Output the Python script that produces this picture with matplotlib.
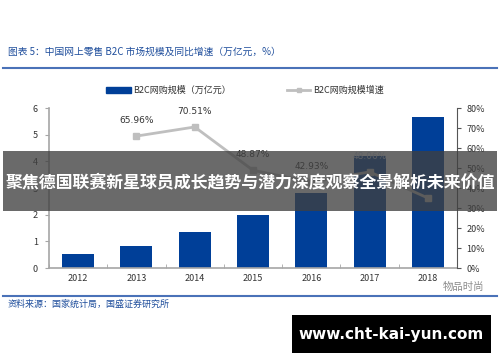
import matplotlib
matplotlib.use("Agg")
import matplotlib.pyplot as plt
from matplotlib.patches import Rectangle
from matplotlib.lines import Line2D
from matplotlib.ticker import FixedLocator

plt.rcParams['font.family'] = ['Noto Sans CJK SC', 'DejaVu Sans']

years = ["2012", "2013", "2014", "2015", "2016", "2017", "2018"]
scale = [0.52, 0.82, 1.35, 1.98, 2.83, 4.19, 5.66]
growth_years = ["2013", "2014", "2015", "2016", "2017", "2018"]
growth = [65.96, 70.51, 48.87, 42.93, 48.06, 35.0]
growth_labels = ["65.96%", "70.51%", "48.87%", "42.93%", "48.06%", None]

title = "图表 5：中国网上零售 B2C 市场规模及同比增速（万亿元，%）"
source = "资料来源：国家统计局，国盛证券研究所"
legend_bar = "B2C网购规模（万亿元）"
legend_line = "B2C网购规模增速"
banner = "聚焦德国联赛新星球员成长趋势与潜力深度观察全景解析未来价值"
url = "www.cht-kai-yun.com"
watermark = "物品时尚"

W, H = 500, 362
fig = plt.figure(figsize=(W/100, H/100), dpi=100)
fig.patch.set_facecolor("white")

def fx(px): return px / W
def fy(py): return 1 - py / H

bar_color = "#003f98"
line_color = "#bfbfbf"
axis_color = "#a6a6a6"
blue_text = "#1f4e9c"

ax = fig.add_axes([fx(49), fy(268), fx(457) - fx(49), fy(108) - fy(268)])
x = list(range(len(years)))
ax.bar(x, scale, width=0.55, color=bar_color, zorder=2)
ax.set_xlim(-0.5, len(years) - 0.5)
ax.set_ylim(0, 6)
ax.set_yticks([0, 1, 2, 3, 4, 5, 6])
ax.set_xticks(x)
ax.set_xticklabels(years)
ax.xaxis.set_minor_locator(FixedLocator([i + 0.5 for i in range(-1, len(years))]))
ax.tick_params(axis='x', which='major', length=0, labelsize=6.5, pad=4, colors="#333333")
ax.tick_params(axis='x', which='minor', length=3, direction='in', color=axis_color)
ax.tick_params(axis='y', labelsize=6.5, length=3, color=axis_color, labelcolor="#333333", pad=5)
for s in ["top", "right"]:
    ax.spines[s].set_visible(False)
for s in ["left", "bottom"]:
    ax.spines[s].set_color(axis_color)
    ax.spines[s].set_linewidth(1.2)

ax2 = ax.twinx()
gx = [years.index(y) for y in growth_years]
ax2.plot(gx, [g / 100 for g in growth], color=line_color, lw=2, marker="s", ms=4,
         markerfacecolor=line_color, markeredgecolor=line_color, zorder=3)
ax2.set_ylim(0, 0.8)
ax2.set_yticks([i / 10 for i in range(9)])
ax2.set_yticklabels([f"{i*10}%" for i in range(9)])
ax2.tick_params(axis='y', labelsize=6.5, length=3, color="#555555", labelcolor="#333333", pad=4)
for s in ["top", "left", "bottom"]:
    ax2.spines[s].set_visible(False)
ax2.spines["right"].set_color("#555555")
ax2.spines["right"].set_linewidth(0.8)

for i, (xi, g, lab) in enumerate(zip(gx, growth, growth_labels)):
    if lab is None:
        continue
    col = "#c8d4ea" if growth_years[i] == "2017" else "#333333"
    ax2.annotate(lab, (xi, g / 100), xytext=(0, 8), textcoords="offset points",
                 ha="center", va="bottom", fontsize=6.5, color=col, family="DejaVu Sans")

# header
fig.text(fx(8), fy(52), title, fontsize=7, color=blue_text, ha="left", va="center", style="italic")
fig.add_artist(Line2D([fx(3), fx(497)], [fy(68), fy(68)], color="#4a72b8", lw=1.5))

# legend
fig.add_artist(Rectangle((fx(106), fy(93)), fx(25), fy(87) - fy(93), color=bar_color))
fig.text(fx(133), fy(90), legend_bar, fontsize=6.5, color="#333333", ha="left", va="center")
fig.add_artist(Line2D([fx(287), fx(298.5), fx(310)], [fy(90), fy(90), fy(90)], color=line_color, lw=2,
                      marker="s", ms=3.5, markevery=[1], markerfacecolor=line_color,
                      markeredgecolor=line_color))
fig.text(fx(313), fy(90), legend_line, fontsize=6.5, color="#333333", ha="left", va="center")

# footer
fig.add_artist(Line2D([fx(3), fx(497)], [fy(296), fy(296)], color="#4a72b8", lw=1.5))
fig.text(fx(8), fy(304), source, fontsize=6.5, color=blue_text, ha="left", va="center", style="italic")
fig.text(fx(484), fy(287), watermark, fontsize=7.5, color="#8c8c8c", ha="right", va="center")

# banner overlay
fig.add_artist(Rectangle((fx(3), fy(211)), fx(497) - fx(3), fy(151) - fy(211),
                         facecolor="#404040", alpha=0.78, edgecolor="none", zorder=10))
fig.text(0.5, fy(182), banner, fontsize=12.2, color="white", weight="bold",
         ha="center", va="center", zorder=11)

# url box
fig.add_artist(Rectangle((fx(292), fy(353)), fx(491) - fx(292), fy(315) - fy(353),
                         facecolor="black", edgecolor="none", zorder=10))
fig.text(fx(391.5), fy(334), url, fontsize=11, color="white", weight="bold",
         ha="center", va="center", zorder=11, family="DejaVu Sans")

fig.savefig("out.png", dpi=100)
